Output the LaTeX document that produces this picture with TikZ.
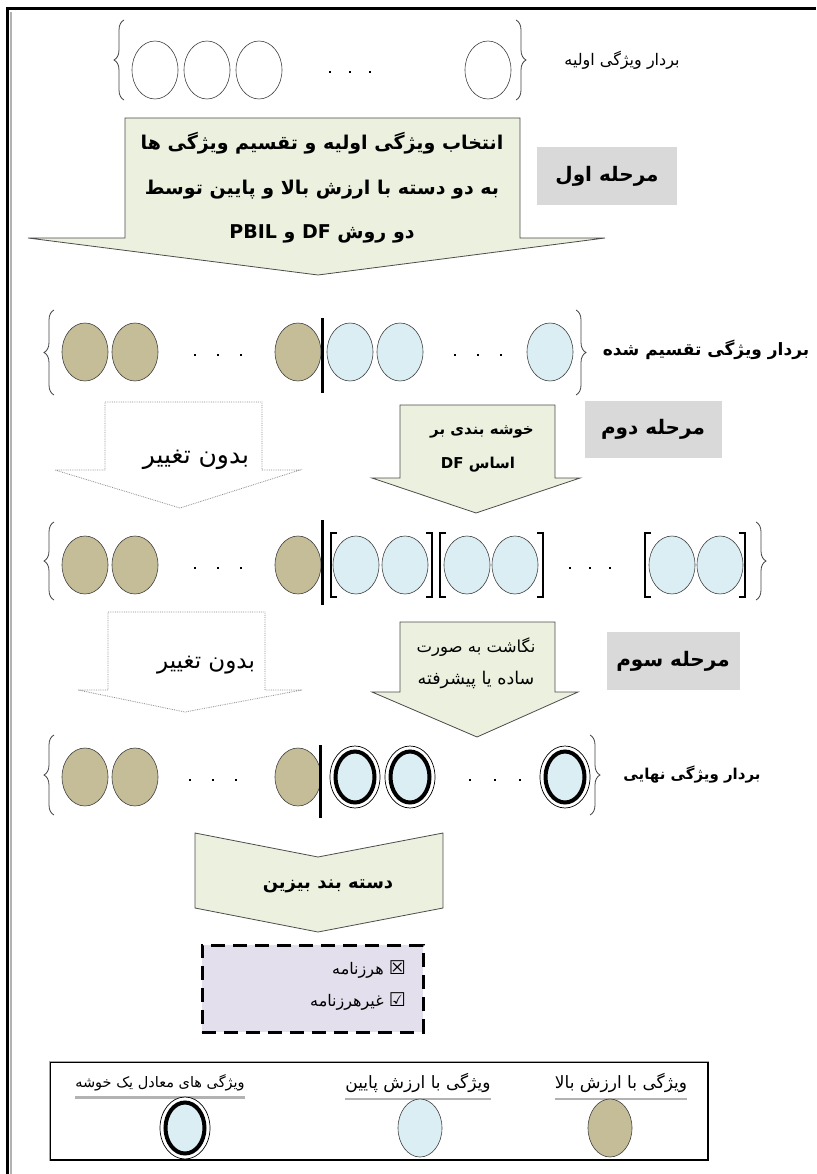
\documentclass[tikz,border=0pt]{standalone}
\usepackage{fontspec}
\usetikzlibrary{shapes.geometric,decorations.pathreplacing}
\newfontfamily\fa[Script=Arabic]{DejaVu Sans}
\newfontfamily\symf{DejaVu Sans}
\TeXXeTstate=1
\newcommand{\fsz}[1]{\fontsize{#1}{#1}\selectfont}
\newcommand{\rtl}[1]{\beginR#1\endR}
\definecolor{tanc}{HTML}{C4BD97}
\definecolor{lblue}{HTML}{DAEEF3}
\definecolor{lgreen}{HTML}{EBF1DE}
\definecolor{stagegray}{HTML}{D9D9D9}
\definecolor{lav}{HTML}{E4DFEC}
\tikzset{
  ell/.style={ellipse, minimum width=46pt, minimum height=58pt, inner sep=0pt, draw=black!75, line width=0.6pt},
  hi/.style={ell, fill=tanc},
  lo/.style={ell, fill=lblue},
  em/.style={ell, fill=white},
  brc/.style={decorate, decoration={brace, amplitude=10pt}, draw=black!75, line width=0.8pt},
  bar/.style={line width=3pt},
  sqb/.style={line width=2pt},
  dotn/.style={rectangle, fill=black, minimum size=2.8pt, inner sep=0pt},
  garrow/.style={fill=lgreen, draw=black!70, line width=0.8pt},
  warrow/.style={fill=white, draw=black!45, densely dotted, line width=0.8pt},
  stagebox/.style={fill=stagegray, inner sep=0pt},
  txt/.style={font=\fa, inner sep=0pt},
}
\newcommand{\clusnode}[3]{%
  \node[ellipse, minimum width=50pt, minimum height=62pt, inner sep=0pt, draw=black, line width=0.7pt, fill=white] (#1o) at (#2,#3) {};
  \node[ellipse, minimum width=39pt, minimum height=51pt, inner sep=0pt, draw=black, line width=4pt, fill=lblue] (#1) at (#2,#3) {};}
\begin{document}
\begin{tikzpicture}[x=1pt,y=-1pt]
\useasboundingbox (0,0) rectangle (816,1174);
% frame
\draw[black!30, line width=2pt] (11,1174) -- (11,12);
\draw[line width=3pt] (7.5,1174) -- (7.5,8.5) -- (816,8.5);

% ---------- row 1 ----------
\coordinate (r1bl) at (124,100); \coordinate (r1tl) at (124,20);
\coordinate (r1tr) at (516,20); \coordinate (r1br) at (516,100);
\draw[brc] (r1bl) -- (r1tl);
\draw[brc] (r1tr) -- (r1br);
\node[em] (a1) at (155,70) {};
\node[em] (a2) at (207,70) {};
\node[em] (a3) at (259,70) {};
\node[em] (a4) at (488,70) {};
\foreach \i/\x in {1/330,2/350,3/370} \node[dotn] (ad\i) at (\x,72) {};
\node[txt] (lab1) at (622,60) {\fsz{16}\rtl{بردار ویژگی اولیه}};

% ---------- stage 1 ----------
\filldraw[garrow] (125,118) -- (520,118) -- (520,238) -- (605,238) -- (318,275) -- (28,238) -- (125,238) -- cycle;
\node[txt] (s1a) at (322,143) {\fsz{19}\bfseries\rtl{انتخاب ویژگی اولیه و تقسیم ویژگی ها}};
\node[txt] (s1b) at (322,190) {\fsz{19}\bfseries\rtl{به دو دسته با ارزش بالا و پایین توسط}};
\node[txt] (s1c) at (322,234) {\fsz{19}\bfseries\rtl{دو روش DF و PBIL}};
\node[stagebox, minimum width=140pt, minimum height=58pt] (st1) at (607,176) {};
\node[txt] (st1t) at (st1) {\fsz{20}\bfseries\rtl{مرحله اول}};

% ---------- row 2 ----------
\coordinate (r2bl) at (54,395); \coordinate (r2tl) at (54,310);
\coordinate (r2tr) at (576,310); \coordinate (r2br) at (576,395);
\draw[brc] (r2bl) -- (r2tl);
\draw[brc] (r2tr) -- (r2br);
\node[hi] (b1) at (85,352) {};
\node[hi] (b2) at (135,352) {};
\foreach \i/\x in {1/195,2/218,3/241} \node[dotn] (bd\i) at (\x,355) {};
\node[hi] (b3) at (298,352) {};
\coordinate (bart2) at (322,318); \coordinate (barb2) at (322,393);
\draw[bar] (bart2) -- (barb2);
\node[lo] (b4) at (350,352) {};
\node[lo] (b5) at (400,352) {};
\foreach \i/\x in {1/455,2/478,3/501} \node[dotn] (be\i) at (\x,355) {};
\node[lo] (b6) at (550,352) {};
\node[txt] (lab2) at (706,350) {\fsz{17}\bfseries\rtl{بردار ویژگی تقسیم شده}};

% ---------- stage 2 ----------
\filldraw[warrow] (105,402) -- (262,402) -- (262,470) -- (300,470) -- (180,508) -- (55,470) -- (105,470) -- cycle;
\node[txt] (s2l) at (196,460) {\fsz{25}\rtl{بدون تغییر}};
\filldraw[garrow] (400,405) -- (555,405) -- (555,478) -- (580,478) -- (476,513) -- (372,478) -- (400,478) -- cycle;
\node[txt] (s2a) at (482,432) {\fsz{15}\bfseries\rtl{خوشه بندی بر}};
\node[txt] (s2b) at (478,465) {\fsz{15}\bfseries\rtl{اساس DF}};
\node[stagebox, minimum width=137pt, minimum height=57pt] (st2) at (653,429) {};
\node[txt] (st2t) at (st2) {\fsz{20}\bfseries\rtl{مرحله دوم}};

% ---------- row 3 ----------
\coordinate (r3bl) at (54,600); \coordinate (r3tl) at (54,522);
\coordinate (r3tr) at (756,522); \coordinate (r3br) at (756,600);
\draw[brc] (r3bl) -- (r3tl);
\draw[brc] (r3tr) -- (r3br);
\node[hi] (c1) at (85,565) {};
\node[hi] (c2) at (135,565) {};
\foreach \i/\x in {1/195,2/218,3/241} \node[dotn] (cd\i) at (\x,568) {};
\node[hi] (c3) at (298,565) {};
\coordinate (bart3) at (322,520); \coordinate (barb3) at (322,605);
\draw[bar] (bart3) -- (barb3);
\node[lo] (c4) at (356,565) {};
\node[lo] (c5) at (405,565) {};
\node[lo] (c6) at (467,565) {};
\node[lo] (c7) at (515,565) {};
\foreach \i/\x in {1/570,2/590,3/610} \node[dotn] (ce\i) at (\x,568) {};
\node[lo] (c8) at (672,565) {};
\node[lo] (c9) at (720,565) {};
\foreach \i/\l/\r in {1/331/432,2/440/543,3/645/745}{
  \coordinate (ql\i) at (\l,533); \coordinate (qr\i) at (\r,533);
  \draw[sqb] ([xshift=6pt]ql\i) -- (ql\i) -- ([yshift=-64pt]ql\i) -- ([xshift=6pt,yshift=-64pt]ql\i);
  \draw[sqb] ([xshift=-6pt]qr\i) -- (qr\i) -- ([yshift=-64pt]qr\i) -- ([xshift=-6pt,yshift=-64pt]qr\i);
}

% ---------- stage 3 ----------
\filldraw[warrow] (108,612) -- (265,612) -- (265,690) -- (302,690) -- (185,712) -- (78,690) -- (108,690) -- cycle;
\node[txt] (s3l) at (206,665) {\fsz{23}\rtl{بدون تغییر}};
\filldraw[garrow] (400,622) -- (555,622) -- (555,692) -- (578,692) -- (477,737) -- (372,692) -- (400,692) -- cycle;
\node[txt] (s3a) at (476,647) {\fsz{16.5}\rtl{نگاشت به صورت}};
\node[txt] (s3b) at (476,680) {\fsz{17.5}\rtl{ساده یا پیشرفته}};
\node[stagebox, minimum width=133pt, minimum height=58pt] (st3) at (673,661) {};
\node[txt] (st3t) at (st3) {\fsz{20}\bfseries\rtl{مرحله سوم}};

% ---------- row 4 ----------
\coordinate (r4bl) at (54,815); \coordinate (r4tl) at (54,735);
\coordinate (r4tr) at (590,735); \coordinate (r4br) at (590,815);
\draw[brc] (r4bl) -- (r4tl);
\draw[brc] (r4tr) -- (r4br);
\node[hi] (d1) at (85,777) {};
\node[hi] (d2) at (135,777) {};
\foreach \i/\x in {1/190,2/213,3/236} \node[dotn] (dd\i) at (\x,780) {};
\node[hi] (d3) at (298,777) {};
\coordinate (bart4) at (320,745); \coordinate (barb4) at (320,818);
\draw[bar] (bart4) -- (barb4);
\clusnode{d4}{355}{777}
\clusnode{d5}{410}{777}
\foreach \i/\x in {1/470,2/495,3/520} \node[dotn] (de\i) at (\x,780) {};
\clusnode{d6}{565}{777}
\node[txt] (lab4) at (692,775) {\fsz{15}\bfseries\rtl{بردار ویژگی نهایی}};

% ---------- classifier ----------
\filldraw[garrow] (195,833) -- (318,857) -- (443,833) -- (443,908) -- (318,932) -- (195,908) -- cycle;
\node[txt] (cls) at (328,886) {\fsz{18}\bfseries\rtl{دسته بند بیزین}};
\node[draw=black, line width=3pt, dash pattern=on 14pt off 8pt, fill=lav, minimum width=221pt, minimum height=87pt, inner sep=0pt] (res) at (312.5,988.5) {};
\node[txt, anchor=east] (spam) at (406,970) {\fsz{16}\rtl{{\symf\bfseries\fsz{19}☒} هرزنامه}};
\node[txt, anchor=east] (ham) at (406,1002) {\fsz{16}\rtl{{\symf\bfseries\fsz{19}☑} غیرهرزنامه}};

% ---------- legend ----------
\node[draw=black, line width=1.5pt, minimum width=658pt, minimum height=98pt, inner sep=0pt] (leg) at (379,1111) {};
\draw[black!35, line width=1.5pt] (leg.south west) -- (leg.north west) -- (leg.north east);
\node[txt] (lg1) at (621,1083) {\fsz{17}\rtl{ویژگی با ارزش بالا}};
\node[txt] (lg2) at (418,1083) {\fsz{17}\rtl{ویژگی با ارزش پایین}};
\node[txt] (lg3) at (160,1083) {\fsz{14.5}\rtl{ویژگی های معادل یک خوشه}};
\foreach \n in {lg1,lg2,lg3} \draw[black!30, line width=2.5pt] ([yshift=-6pt]\n.south west) -- ([yshift=-6pt]\n.south east);
\node[hi, minimum width=44pt, minimum height=58pt] (lgh) at (610,1128) {};
\node[lo, minimum width=44pt, minimum height=58pt] (lgl) at (420,1128) {};
\clusnode{lgc}{185}{1128}
\end{tikzpicture}
\end{document}
